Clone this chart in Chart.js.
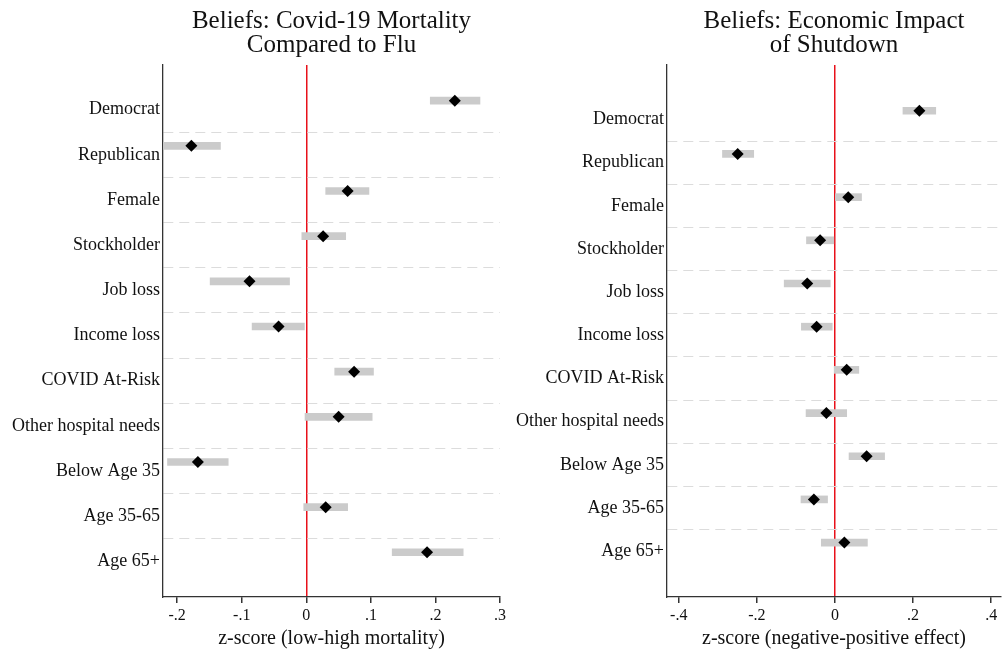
<!DOCTYPE html>
<html>
<head>
<meta charset="utf-8">
<script src="https://cdn.jsdelivr.net/npm/chart.js@4.4.1/dist/chart.umd.min.js"></script>
<style>
  body { margin: 0; background: #fff; }
  #wrap { position: relative; width: 1002px; height: 655px; overflow: hidden; }
  canvas { position: absolute; top: 0; }
</style>
</head>
<body>
<div id="wrap">
  <canvas id="mortChart" width="520" height="655" style="left:0"></canvas>
  <canvas id="econChart" width="510" height="655" style="left:502px"></canvas>
</div>
<script>
// categories, top to bottom
var categories = ['Democrat', 'Republican', 'Female', 'Stockholder', 'Job loss', 'Income loss',
  'COVID At-Risk', 'Other hospital needs', 'Below Age 35', 'Age 35-65', 'Age 65+'];

// left panel: covid mortality vs flu
var mortCoef = [0.230, -0.178, 0.064, 0.026, -0.088, -0.043, 0.074, 0.050, -0.168, 0.030, 0.187];
var mortLow  = [0.192, -0.222, 0.030, -0.007, -0.149, -0.084, 0.044, -0.002, -0.215, -0.004, 0.133];
var mortHigh = [0.269, -0.133, 0.097, 0.061, -0.026, -0.003, 0.104, 0.102, -0.121, 0.064, 0.243];
var mortTicks = [-0.2, -0.1, 0, 0.1, 0.2, 0.3];

// right panel: economic impact of shutdown
var econCoef = [0.216, -0.249, 0.034, -0.038, -0.071, -0.047, 0.030, -0.022, 0.081, -0.054, 0.024];
var econLow  = [0.174, -0.288, 0.001, -0.073, -0.130, -0.086, -0.002, -0.074, 0.036, -0.087, -0.035];
var econHigh = [0.258, -0.208, 0.068, -0.003, -0.012, -0.007, 0.061, 0.030, 0.127, -0.019, 0.083];
var econTicks = [-0.4, -0.2, 0, 0.2, 0.4];

var serif = '"Liberation Serif", "Times New Roman", serif';

function stataLabel(v) {
  if (v === 0) return '0';
  return String(+v.toFixed(2)).replace('0.', '.');
}

// two-line panel title centered over the plot area
var panelTitle = {
  id: 'panelTitle',
  afterDraw: function(chart, args, opts) {
    var ctx = chart.ctx, area = chart.chartArea;
    ctx.save();
    ctx.font = '25px ' + serif;
    ctx.fillStyle = '#111';
    ctx.textAlign = 'center';
    ctx.textBaseline = 'alphabetic';
    opts.lines.forEach(function(t, i) {
      ctx.fillText(t, (area.left + area.right) / 2, 28 + i * 24);
    });
    ctx.restore();
  }
};

function makePanel(id, p) {
  var shift = -0.2; // markers sit a bit above the label line
  return new Chart(document.getElementById(id), {
    type: 'scatter',
    data: {
      datasets: [
        {
          type: 'scatter',
          data: categories.map(function(c, i) { return {x: p.coef[i], y: i + shift}; }),
          pointStyle: 'rectRot',
          pointRadius: 6,
          backgroundColor: '#000',
          borderColor: '#000',
          borderWidth: 0,
          order: 0
        },
        {
          type: 'bar',
          indexAxis: 'y',
          data: categories.map(function(c, i) { return {x: [p.low[i], p.high[i]], y: i + shift}; }),
          backgroundColor: '#cbcbcb',
          borderWidth: 0,
          barThickness: 7,
          order: 1
        }
      ]
    },
    options: {
      responsive: false,
      animation: false,
      layout: { padding: { top: 65, left: 0, right: p.padRight, bottom: 0 } },
      plugins: {
        legend: { display: false },
        tooltip: { enabled: false },
        panelTitle: { lines: p.title }
      },
      scales: {
        x: {
          type: 'linear',
          min: p.xMin,
          max: p.xMax,
          offset: false,
          beginAtZero: false,
          afterBuildTicks: function(s) { s.ticks = p.ticks.map(function(v) { return {value: v}; }); },
          afterFit: function(s) { s.height = 58; },
          ticks: { callback: stataLabel, font: { family: serif, size: 16 }, color: '#111', padding: 3 },
          grid: {
            offset: false,
            color: function(ctx) { return ctx.tick && ctx.tick.value === 0 ? '#e8101a' : 'rgba(0,0,0,0)'; },
            lineWidth: 1.5,
            tickColor: '#333',
            tickLength: 6
          },
          border: { color: '#333', width: 1.3 },
          title: { display: true, text: p.xTitle, font: { family: serif, size: 20 }, color: '#111', padding: { top: 0, bottom: 4 } }
        },
        y: {
          type: 'linear',
          reverse: true,
          offset: false,
          min: p.yMin,
          max: p.yMax,
          afterBuildTicks: function(s) { s.ticks = categories.map(function(c, i) { return {value: i}; }); },
          afterFit: function(s) { s.width = p.yWidth; },
          ticks: { callback: function(v) { return categories[v]; }, font: { family: serif, size: 18 }, color: '#111', padding: 3 },
          grid: {
            offset: true,
            drawTicks: false,
            color: function(ctx) { return (ctx.type !== 'tick' || ctx.index === 0) ? 'rgba(0,0,0,0)' : '#dcdcdc'; },
            lineWidth: 1
          },
          border: { color: '#333', width: 1.3, dash: [10, 6] }
        }
      }
    },
    plugins: [panelTitle]
  });
}

makePanel('mortChart', {
  coef: mortCoef, low: mortLow, high: mortHigh, ticks: mortTicks,
  xMin: -0.222, xMax: 0.3, yMin: -0.99, yMax: 10.79,
  yWidth: 163, padRight: 20,
  title: ['Beliefs: Covid-19 Mortality', 'Compared to Flu'],
  xTitle: 'z-score (low-high mortality)'
});

makePanel('econChart', {
  coef: econCoef, low: econLow, high: econHigh, ticks: econTicks,
  xMin: -0.43, xMax: 0.425, yMin: -1.26, yMax: 11.06,
  yWidth: 165, padRight: 11,
  title: ['Beliefs: Economic Impact', 'of Shutdown'],
  xTitle: 'z-score (negative-positive effect)'
});
</script>
</body>
</html>
